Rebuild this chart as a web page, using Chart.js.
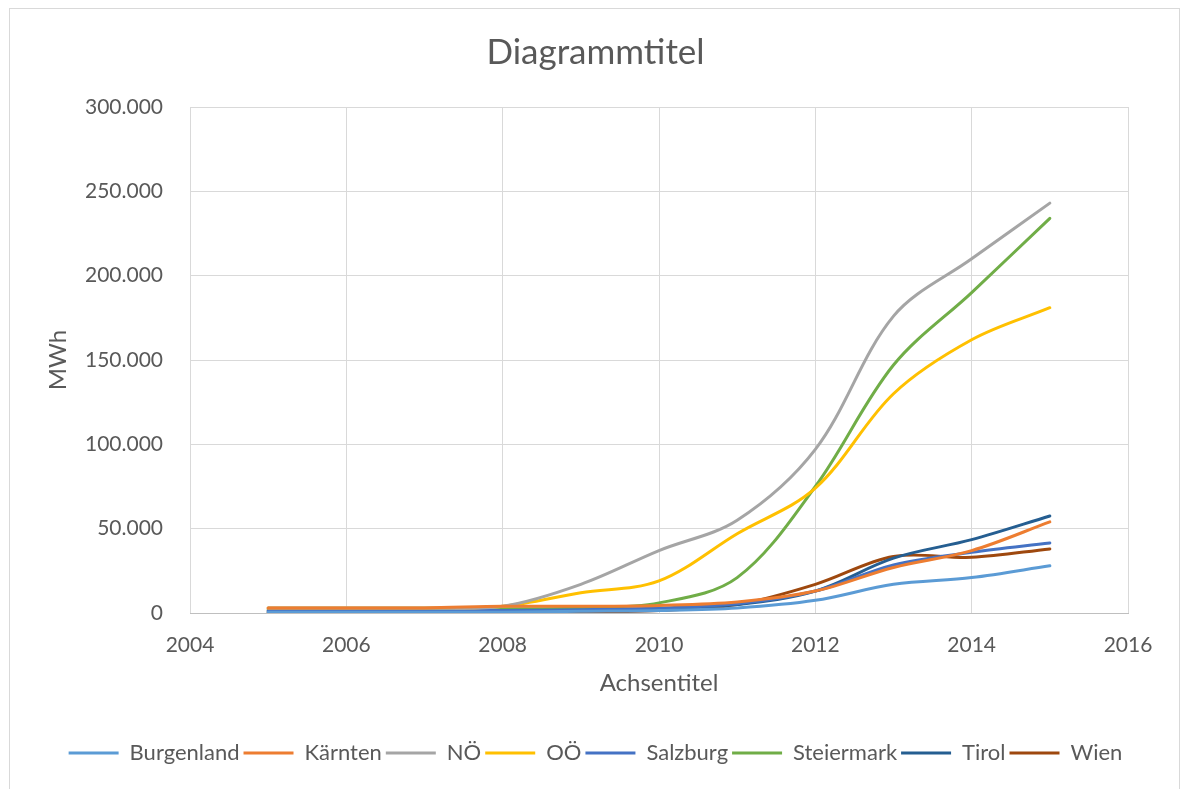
<!DOCTYPE html>
<html lang="de">
<head>
<meta charset="utf-8">
<title>Diagrammtitel</title>
<script src="https://cdn.jsdelivr.net/npm/chart.js@4/dist/chart.umd.min.js"></script>
<style>
  html, body { margin: 0; padding: 0; background: #fff; }
  #wrap { width: 1181px; height: 789px; position: relative; }
</style>
</head>
<body>
<div id="wrap"><canvas id="chart" width="1181" height="789"></canvas></div>
<script>
// Jahre (x-Werte)
const years = [2005, 2006, 2007, 2008, 2009, 2010, 2011, 2012, 2013, 2014, 2015];

// Energie je Bundesland in MWh
const burgenland = [500, 500, 500, 500, 1000, 1500, 3000, 7500, 17000, 21000, 28000];
const kaernten   = [3000, 3000, 3000, 4000, 4000, 4500, 6500, 13000, 27000, 37000, 54000];
const noe        = [3000, 3000, 3000, 4000, 17000, 37000, 55000, 97000, 176000, 210000, 243000];
const ooe        = [3000, 3000, 3000, 4000, 12000, 19000, 47000, 74000, 130000, 162000, 181000];
const salzburg   = [1500, 1500, 1500, 1500, 2000, 3000, 5500, 13000, 28500, 36000, 41500];
const steiermark = [2000, 2000, 2000, 2500, 3000, 6000, 21000, 75000, 147000, 190000, 234000];
const tirol      = [1000, 1000, 1000, 1000, 1500, 2500, 5000, 13000, 32500, 43500, 57500];
const wien       = [500, 500, 500, 500, 500, 1500, 5000, 17000, 33500, 33000, 38000];

const seriesNames = ['Burgenland', 'Kärnten', 'NÖ', 'OÖ', 'Salzburg', 'Steiermark', 'Tirol', 'Wien'];
const seriesValues = [burgenland, kaernten, noe, ooe, salzburg, steiermark, tirol, wien];
const seriesColors = ['#5B9BD5', '#ED7D31', '#A5A5A5', '#FFC000', '#4472C4', '#70AD47', '#255E91', '#9E480E'];

// Achsenbereiche und Beschriftungen
const xMin = 2004, xMax = 2016, xStep = 2;
const yMin = 0, yMax = 300000, yStep = 50000;
const chartTitle = 'Diagrammtitel';
const xTitle = 'Achsentitel';
const yTitle = 'MWh';

const FONT = 'Lato, "Open Sans", sans-serif';
const TEXT = '#595959';
const GRID = '#D9D9D9';

// Tausendertrennzeichen mit Punkt
function fmtThousands(v) {
  return String(Math.round(v)).replace(/\B(?=(\d{3})+(?!\d))/g, '.');
}

const datasets = seriesNames.map((name, i) => ({
  label: name,
  data: years.map((x, j) => ({ x: x, y: seriesValues[i][j] })),
  borderColor: seriesColors[i],
  backgroundColor: seriesColors[i],
  borderWidth: 3,
  borderCapStyle: 'round',
  showLine: true,
  pointRadius: 0,
  pointHoverRadius: 0,
  tension: 0.34,
  pointStyle: 'line'
}));

// Rahmen um die gesamte Grafik
const frame = {
  id: 'frame',
  beforeDraw(chart) {
    const ctx = chart.ctx;
    ctx.save();
    ctx.fillStyle = '#ffffff';
    ctx.fillRect(0, 0, chart.width, chart.height);
    ctx.strokeStyle = GRID;
    ctx.lineWidth = 1;
    ctx.strokeRect(9.5, 8.5, 1170, 790);
    ctx.restore();
  }
};

new Chart(document.getElementById('chart'), {
  type: 'scatter',
  data: { datasets },
  plugins: [frame],
  options: {
    responsive: false,
    animation: false,
    events: [],
    layout: { padding: { left: 10, right: 0, top: 0, bottom: 15 } },
    plugins: {
      title: {
        display: true,
        text: chartTitle,
        color: TEXT,
        font: { family: FONT, size: 35, weight: 'normal' },
        padding: { top: 32, bottom: 33 }
      },
      legend: {
        display: true,
        position: 'bottom',
        labels: {
          usePointStyle: true,
          pointStyleWidth: 50,
          color: TEXT,
          font: { family: FONT, size: 22 },
          padding: 4
        }
      },
      tooltip: { enabled: false }
    },
    scales: {
      x: {
        type: 'linear',
        min: xMin,
        max: xMax,
        afterFit(scale) { scale.height = 125; },
        ticks: {
          stepSize: xStep,
          padding: 20,
          color: TEXT,
          font: { family: FONT, size: 21 },
          callback: v => String(v)
        },
        grid: { color: GRID, lineWidth: 1, drawTicks: false },
        border: { color: '#BFBFBF', width: 1 },
        title: {
          display: true,
          text: xTitle,
          color: TEXT,
          font: { family: FONT, size: 24 },
          padding: { top: 0, bottom: 40 }
        }
      },
      y: {
        type: 'linear',
        position: 'left',
        min: yMin,
        max: yMax,
        afterFit(scale) { scale.width = 180; },
        ticks: {
          stepSize: yStep,
          padding: 27,
          color: TEXT,
          font: { family: FONT, size: 21 },
          callback: v => fmtThousands(v)
        },
        grid: { color: GRID, lineWidth: 1, drawTicks: false },
        border: { display: false },
        title: {
          display: true,
          text: yTitle,
          color: TEXT,
          font: { family: FONT, size: 24 },
          padding: { top: 34, bottom: 0 }
        }
      },
      // leerer Rand rechts neben der Zeichenfläche
      yRight: {
        type: 'linear',
        position: 'right',
        min: yMin,
        max: yMax,
        afterFit(scale) { scale.width = 53; },
        ticks: { display: false },
        grid: { display: false },
        border: { display: false }
      }
    }
  }
});
</script>
</body>
</html>
